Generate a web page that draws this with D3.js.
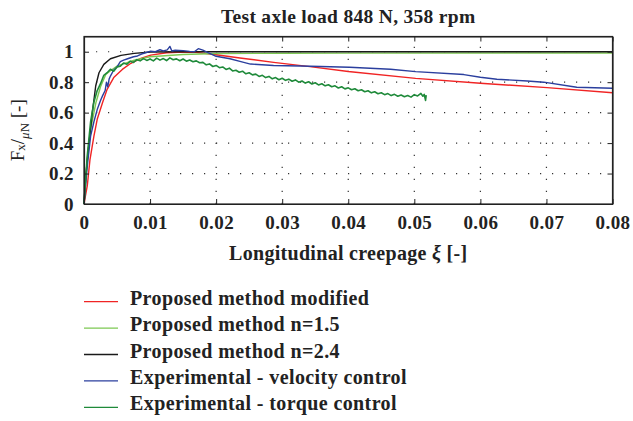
<!DOCTYPE html>
<html>
<head>
<meta charset="utf-8">
<script src="https://cdn.jsdelivr.net/npm/d3@7"></script>
<style>
  body { margin: 0; background: #fff; }
  svg { font-family: "Liberation Serif", "DejaVu Serif", serif; font-weight: bold; }
</style>
</head>
<body>
<div id="chart"></div>
<script>
// tick values
var xTicks = [0, 0.01, 0.02, 0.03, 0.04, 0.05, 0.06, 0.07, 0.08];
var yTicks = [0, 0.2, 0.4, 0.6, 0.8, 1];

// series, [creepage, Fx/uN]
var modified = [
  [0, 0], [0.0005, 0.12], [0.0009, 0.29], [0.0015, 0.446], [0.002, 0.556], [0.0028, 0.665],
  [0.0035, 0.753], [0.0045, 0.83], [0.0058, 0.884], [0.0071, 0.924], [0.0086, 0.956],
  [0.0101, 0.978], [0.0125, 0.993], [0.015, 0.998], [0.017, 0.996], [0.02, 0.98],
  [0.0236, 0.959], [0.0287, 0.93], [0.0342, 0.902], [0.04, 0.87], [0.0502, 0.825],
  [0.06, 0.793], [0.0701, 0.764], [0.08, 0.731]
];
var n15 = [
  [0, 0], [0.0005, 0.3], [0.001, 0.49], [0.0018, 0.665], [0.0025, 0.77], [0.0033, 0.85],
  [0.004, 0.875], [0.005, 0.906], [0.0076, 0.945], [0.01, 0.967], [0.015, 0.982],
  [0.02, 0.988], [0.03, 0.99], [0.04, 0.991], [0.08, 0.992]
];
var n24 = [
  [0, 0], [0.0003, 0.2], [0.00076, 0.4], [0.00126, 0.6], [0.00177, 0.775], [0.00227, 0.862],
  [0.003, 0.917], [0.004, 0.954], [0.0056, 0.976], [0.0076, 0.989], [0.0101, 0.998],
  [0.015, 1.0], [0.08, 1.0]
];
var velocity = [
  [0, 0], [0.0005, 0.25], [0.001, 0.446], [0.0015, 0.54], [0.002, 0.62], [0.0025, 0.68],
  [0.0028, 0.71], [0.0032, 0.745], [0.0034, 0.8], [0.0036, 0.77], [0.0038, 0.82],
  [0.004, 0.84], [0.0045, 0.88], [0.005, 0.9], [0.0055, 0.935], [0.006, 0.945],
  [0.0066, 0.954], [0.0075, 0.967], [0.0081, 0.972], [0.0087, 0.985], [0.0093, 0.993],
  [0.0101, 1.004], [0.0108, 1.0], [0.0115, 1.013], [0.012, 1.005], [0.0126, 1.012],
  [0.013, 1.035], [0.0133, 1.005], [0.0138, 1.01], [0.015, 1.007], [0.016, 1.002],
  [0.0167, 1.0], [0.0173, 1.02], [0.018, 1.01], [0.0186, 0.998], [0.02, 0.97],
  [0.0221, 0.954], [0.0236, 0.937], [0.0252, 0.919], [0.0287, 0.91], [0.0327, 0.906],
  [0.0358, 0.903], [0.0402, 0.898], [0.0464, 0.885], [0.0502, 0.869], [0.0575, 0.85],
  [0.06, 0.832], [0.0625, 0.819], [0.0671, 0.808], [0.0696, 0.8], [0.0741, 0.77],
  [0.0746, 0.767], [0.08, 0.76]
];
var torque = [
  [0, 0], [0.0005, 0.32], [0.001, 0.54], [0.0015, 0.67], [0.002, 0.745], [0.0025, 0.79],
  [0.003, 0.845], [0.0035, 0.862], [0.004, 0.885], [0.0045, 0.872], [0.005, 0.9],
  [0.0055, 0.905], [0.006, 0.926], [0.0065, 0.918], [0.007, 0.938], [0.0075, 0.93],
  [0.008, 0.948], [0.0085, 0.94], [0.009, 0.955], [0.0095, 0.943], [0.01, 0.952],
  [0.0105, 0.94], [0.011, 0.958], [0.0115, 0.945], [0.012, 0.955], [0.0125, 0.942],
  [0.013, 0.96], [0.0135, 0.947], [0.014, 0.953], [0.0145, 0.941], [0.015, 0.952],
  [0.0155, 0.938], [0.016, 0.946], [0.0165, 0.934], [0.017, 0.94], [0.0175, 0.928],
  [0.018, 0.93], [0.0185, 0.914], [0.019, 0.92], [0.0195, 0.903], [0.02, 0.91],
  [0.0205, 0.895], [0.021, 0.9], [0.0215, 0.884], [0.022, 0.892], [0.0225, 0.874],
  [0.023, 0.878], [0.0235, 0.865], [0.024, 0.872], [0.0245, 0.855], [0.025, 0.862],
  [0.0255, 0.848], [0.026, 0.853], [0.0265, 0.838], [0.027, 0.845], [0.0275, 0.83],
  [0.028, 0.838], [0.0285, 0.822], [0.029, 0.83], [0.0295, 0.816], [0.03, 0.826],
  [0.0305, 0.812], [0.031, 0.82], [0.0315, 0.806], [0.032, 0.815], [0.0325, 0.8],
  [0.033, 0.808], [0.0335, 0.794], [0.034, 0.803], [0.0345, 0.788], [0.035, 0.796],
  [0.0355, 0.782], [0.036, 0.79], [0.0365, 0.776], [0.037, 0.783], [0.0375, 0.77],
  [0.038, 0.776], [0.0385, 0.762], [0.039, 0.77], [0.0395, 0.756], [0.04, 0.763],
  [0.0405, 0.75], [0.041, 0.757], [0.0415, 0.744], [0.042, 0.75], [0.0425, 0.737],
  [0.043, 0.744], [0.0435, 0.73], [0.044, 0.737], [0.0445, 0.724], [0.045, 0.731],
  [0.0455, 0.718], [0.046, 0.725], [0.0465, 0.712], [0.047, 0.72], [0.0475, 0.708],
  [0.048, 0.716], [0.0485, 0.704], [0.049, 0.712], [0.0495, 0.702], [0.05, 0.718],
  [0.0505, 0.71], [0.051, 0.726], [0.0513, 0.708], [0.0515, 0.72], [0.0517, 0.68],
  [0.0518, 0.715]
];

var seriesNames = [
  "Proposed method modified",
  "Proposed method n=1.5",
  "Proposed method n=2.4",
  "Experimental - velocity control",
  "Experimental - torque control"
];
var seriesData = [modified, n15, n24, velocity, torque];
var seriesColors = ["#f02424", "#7cc852", "#1a1a1a", "#2b3f9e", "#1f8a3a"];

var width = 633, height = 421;
var plotLeft = 84, plotRight = 612.5, plotTop = 36.5, plotBottom = 204;

var svg = d3.select("#chart").append("svg")
    .attr("width", width)
    .attr("height", height);

var x = d3.scaleLinear().domain([0, 0.08]).range([plotLeft, plotRight]);
var y = d3.scaleLinear().domain([0, 1.1]).range([plotBottom, plotTop]);

// dotted grid
var grid = svg.append("g").attr("stroke", "#333").attr("stroke-width", 1.2)
    .attr("stroke-dasharray", "1.2,10.8");
grid.selectAll("line.v")
    .data(xTicks.slice(1, -1))
    .enter().append("line")
    .attr("x1", function(d) { return x(d); })
    .attr("x2", function(d) { return x(d); })
    .attr("y1", plotBottom)
    .attr("y2", plotTop);
grid.selectAll("line.h")
    .data(yTicks.slice(1))
    .enter().append("line")
    .attr("x1", plotLeft)
    .attr("x2", plotRight)
    .attr("y1", function(d) { return y(d); })
    .attr("y2", function(d) { return y(d); });

// curves
var line = d3.line()
    .x(function(d) { return x(d[0]); })
    .y(function(d) { return y(d[1]); });

svg.append("g")
    .selectAll("path")
    .data(seriesData)
    .enter().append("path")
    .attr("d", line)
    .attr("fill", "none")
    .attr("stroke", function(d, i) { return seriesColors[i]; })
    .attr("stroke-width", function(d, i) { return i == 4 ? 1.6 : 1.4; })
    .attr("stroke-linejoin", "round");

// axes, ticks pointing inwards
svg.append("g")
    .attr("transform", "translate(0," + plotBottom + ")")
    .call(d3.axisBottom(x).tickValues(xTicks).tickSizeInner(-5).tickSizeOuter(0).tickPadding(12)
        .tickFormat(function(d) { return d === 0 ? "0" : d3.format(".2f")(d); }));
svg.append("g")
    .attr("transform", "translate(0," + plotTop + ")")
    .call(d3.axisTop(x).tickValues(xTicks).tickSizeInner(-5).tickSizeOuter(0).tickFormat(""));
svg.append("g")
    .attr("transform", "translate(" + plotLeft + ",0)")
    .call(d3.axisLeft(y).tickValues(yTicks).tickSizeInner(-5).tickSizeOuter(0).tickPadding(10)
        .tickFormat(function(d) { return d3.format("")(d); }));
svg.append("g")
    .attr("transform", "translate(" + plotRight + ",0)")
    .call(d3.axisRight(y).tickValues(yTicks).tickSizeInner(-5).tickSizeOuter(0).tickFormat(""));

svg.selectAll(".domain").attr("stroke", "#222").attr("stroke-width", 1.2);
svg.selectAll(".tick line").attr("stroke", "#222");
svg.selectAll(".tick text")
    .attr("font-family", "Liberation Serif")
    .attr("font-weight", "bold")
    .attr("font-size", 19)
    .attr("letter-spacing", 0.4)
    .attr("fill", "#222");

// frame
svg.append("rect")
    .attr("x", plotLeft).attr("y", plotTop)
    .attr("width", plotRight - plotLeft).attr("height", plotBottom - plotTop)
    .attr("fill", "none").attr("stroke", "#222").attr("stroke-width", 1.2);

// title
svg.append("text")
    .attr("x", (plotLeft + plotRight) / 2)
    .attr("y", 23)
    .attr("text-anchor", "middle")
    .attr("font-size", 19.5)
    .attr("letter-spacing", 0.3)
    .attr("fill", "#222")
    .text("Test axle load 848 N, 358 rpm");

// x label
var xl = svg.append("text")
    .attr("x", (plotLeft + plotRight) / 2)
    .attr("y", 260)
    .attr("text-anchor", "middle")
    .attr("font-size", 20)
    .attr("letter-spacing", 0.3)
    .attr("fill", "#222");
xl.append("tspan").text("Longitudinal creepage ");
xl.append("tspan").attr("font-style", "italic").text("\u03be");
xl.append("tspan").text(" [-]");

// y label  F_x / _uN [-]
var yl = svg.append("text")
    .attr("transform", "translate(24," + ((plotTop + plotBottom) / 2 + 10) + ") rotate(-90)")
    .attr("text-anchor", "middle")
    .attr("font-size", 19)
    .attr("font-weight", "normal")
    .attr("fill", "#222");
yl.append("tspan").text("F");
yl.append("tspan").attr("font-size", 13).attr("dy", 1).text("x");
yl.append("tspan").attr("font-size", 19).attr("dy", -1).text("/");
yl.append("tspan").attr("font-size", 13).attr("dy", 5).attr("font-style", "italic").text("\u03bc");
yl.append("tspan").attr("font-size", 13).text("N");
yl.append("tspan").attr("font-size", 19).attr("dy", -5).text(" [-]");

// legend
var legendItems = seriesNames.map(function(name, i) {
    return { name: name, color: seriesColors[i], row: i };
});
var legend = svg.append("g")
    .attr("class", "legend")
    .selectAll("g.item")
    .data(legendItems)
    .enter().append("g")
    .attr("class", "item")
    .attr("transform", function(d) { return "translate(84," + (301.7 + d.row * 26.4) + ")"; });
legend.append("line")
    .attr("x1", 0).attr("x2", 34)
    .attr("y1", 0).attr("y2", 0)
    .attr("stroke", function(d) { return d.color; })
    .attr("stroke-width", 1.3);
legend.append("text")
    .attr("x", 46)
    .attr("y", 3)
    .attr("font-size", 20)
    .attr("letter-spacing", 0.4)
    .attr("fill", "#222")
    .text(function(d) { return d.name; });
</script>
</body>
</html>
